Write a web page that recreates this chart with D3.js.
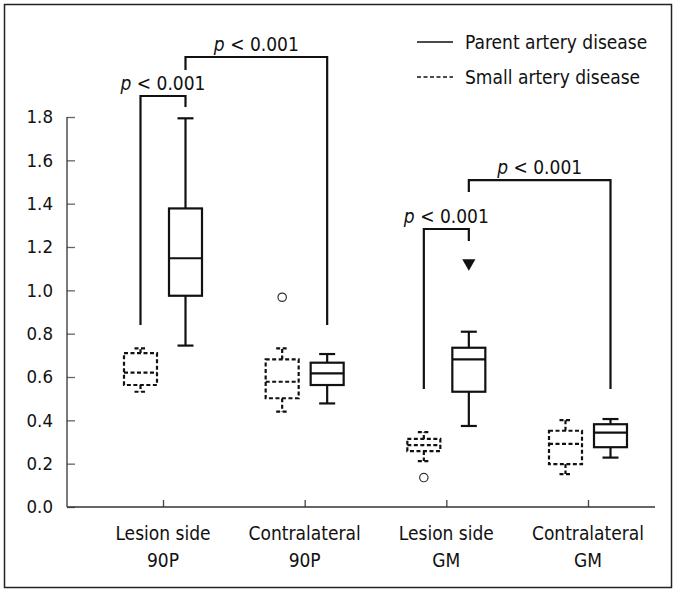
<!DOCTYPE html>
<html>
<head>
<meta charset="utf-8">
<script src="https://cdn.jsdelivr.net/npm/d3@7"></script>
<style>
  body { margin: 0; background: #fff; }
  svg text { font-family: "DejaVu Sans Condensed", "DejaVu Sans", sans-serif; fill: #111; }
</style>
</head>
<body>
<svg id="chart" width="677" height="593"></svg>
<script>
// categories (two lines each)
var categories = [["Lesion side", "90P"], ["Contralateral", "90P"], ["Lesion side", "GM"], ["Contralateral", "GM"]];
var yTicks = [0.0, 0.2, 0.4, 0.6, 0.8, 1.0, 1.2, 1.4, 1.6, 1.8];

// [min, q1, median, q3, max]
var sadBoxes = [
  [0.532, 0.563, 0.62, 0.71, 0.732],
  [0.44, 0.502, 0.578, 0.681, 0.732],
  [0.212, 0.258, 0.286, 0.314, 0.346],
  [0.152, 0.198, 0.291, 0.352, 0.401]
];
var padBoxes = [
  [0.745, 0.975, 1.148, 1.378, 1.794],
  [0.478, 0.563, 0.617, 0.666, 0.706],
  [0.374, 0.532, 0.681, 0.735, 0.809],
  [0.228, 0.276, 0.343, 0.382, 0.406]
];
// [category index, value]
var sadOutliers = [[1, 0.968], [2, 0.136]];
var padExtremes = [[2, 1.126]];

// significance brackets: [left cat, left group, right cat, right group, left leg end, right leg end, top]
var brackets = [
  [0, "sad", 0, "pad", 0.84, 1.846, 1.897],
  [0, "pad", 1, "pad", 2.017, 0.84, 2.077],
  [2, "sad", 2, "pad", 0.545, 1.228, 1.283],
  [2, "pad", 3, "pad", 1.454, 0.545, 1.509]
];

var svg = d3.select("#chart");

// frame
svg.append("rect")
  .attr("x", 4.5).attr("y", 4.5)
  .attr("width", 667).attr("height", 583)
  .attr("fill", "none").attr("stroke", "#222").attr("stroke-width", 1.5);

var y = d3.scaleLinear().domain([0, 1.8]).range([507, 117]);
var x = d3.scalePoint().domain(d3.range(categories.length)).range([163, 588]);
var offset = { sad: -22.5, pad: 22.5 };
var boxW = 33;

// y axis
var yAxis = svg.append("g")
  .attr("transform", "translate(67,0)")
  .call(d3.axisRight(y).tickValues(yTicks).tickSize(8).tickFormat(""));
yAxis.select(".domain").remove();
yAxis.selectAll(".tick line").attr("stroke", "#666").attr("stroke-width", 1.3);
svg.append("line")
  .attr("x1", 67).attr("x2", 67)
  .attr("y1", y(1.8)).attr("y2", y(0))
  .attr("stroke", "#333").attr("stroke-width", 1.3);
svg.selectAll(".ylab")
  .data(yTicks)
  .enter()
  .append("text")
  .attr("class", "ylab")
  .attr("x", 53)
  .attr("y", function (d) { return y(d); })
  .attr("dy", "0.35em")
  .attr("text-anchor", "end")
  .style("font-size", "18.5px")
  .text(function (d) { return d.toFixed(1); });

// x axis
var xAxis = svg.append("g")
  .attr("transform", "translate(0," + y(0) + ")")
  .call(d3.axisTop(x).tickSize(7).tickFormat(""));
xAxis.select(".domain").remove();
xAxis.selectAll(".tick line").attr("stroke", "#444").attr("stroke-width", 1.3);
svg.append("line")
  .attr("x1", 67).attr("x2", 655)
  .attr("y1", y(0)).attr("y2", y(0))
  .attr("stroke", "#333").attr("stroke-width", 1.3);

var xl = svg.selectAll(".xlab")
  .data(categories)
  .enter()
  .append("text")
  .attr("class", "xlab")
  .attr("text-anchor", "middle")
  .style("font-size", "19px");
xl.append("tspan")
  .attr("x", function (d, i) { return x(i); })
  .attr("y", 540)
  .text(function (d) { return d[0]; });
xl.append("tspan")
  .attr("x", function (d, i) { return x(i); })
  .attr("y", 567)
  .text(function (d) { return d[1]; });

// boxes
function drawBoxes(data, group, dash, capW) {
  var g = svg.append("g")
    .attr("fill", "none")
    .attr("stroke", "#111")
    .attr("stroke-width", 2.2)
    .attr("stroke-dasharray", dash);
  data.forEach(function (b, i) {
    var cx = x(i) + offset[group];
    // whiskers
    g.append("line").attr("x1", cx).attr("x2", cx).attr("y1", y(b[3])).attr("y2", y(b[4]));
    g.append("line").attr("x1", cx).attr("x2", cx).attr("y1", y(b[1])).attr("y2", y(b[0]));
    g.append("line").attr("x1", cx - capW / 2).attr("x2", cx + capW / 2).attr("y1", y(b[4])).attr("y2", y(b[4]));
    g.append("line").attr("x1", cx - capW / 2).attr("x2", cx + capW / 2).attr("y1", y(b[0])).attr("y2", y(b[0]));
    // box
    g.append("rect")
      .attr("x", cx - boxW / 2)
      .attr("y", y(b[3]))
      .attr("width", boxW)
      .attr("height", y(b[1]) - y(b[3]))
      .attr("fill", "#fff");
    g.append("line").attr("x1", cx - boxW / 2).attr("x2", cx + boxW / 2).attr("y1", y(b[2])).attr("y2", y(b[2]));
  });
}
drawBoxes(sadBoxes, "sad", "4,2.5", 12);
drawBoxes(padBoxes, "pad", null, 16);

svg.selectAll(".outlier")
  .data(sadOutliers)
  .enter()
  .append("circle")
  .attr("class", "outlier")
  .attr("cx", function (d) { return x(d[0]) + offset.sad; })
  .attr("cy", function (d) { return y(d[1]); })
  .attr("r", 4.2)
  .attr("fill", "#fff")
  .attr("stroke", "#333")
  .attr("stroke-width", 1.2);

svg.selectAll(".extreme")
  .data(padExtremes)
  .enter()
  .append("path")
  .attr("class", "extreme")
  .attr("d", d3.symbol().type(d3.symbolTriangle).size(75))
  .attr("transform", function (d) {
    return "translate(" + (x(d[0]) + offset.pad) + "," + y(d[1]) + ") rotate(180)";
  })
  .attr("fill", "#111");

// brackets
brackets.forEach(function (b) {
  var x1 = x(b[0]) + offset[b[1]];
  var x2 = x(b[2]) + offset[b[3]];
  var top = y(b[6]);
  svg.append("path")
    .attr("d", "M" + x1 + "," + y(b[4]) + "V" + top + "H" + x2 + "V" + y(b[5]))
    .attr("fill", "none")
    .attr("stroke", "#111")
    .attr("stroke-width", 2.2);
  var t = svg.append("text")
    .attr("x", (x1 + x2) / 2)
    .attr("y", top - 6)
    .attr("text-anchor", "middle")
    .style("font-size", "19px");
  t.append("tspan").style("font-style", "italic").text("p");
  t.append("tspan").text(" < 0.001");
});

// legend
var legend = [["Parent artery disease", null], ["Small artery disease", "4,2.5"]];
legend.forEach(function (l, i) {
  var ly = 42 + i * 35;
  svg.append("line")
    .attr("x1", 417).attr("x2", 453)
    .attr("y1", ly).attr("y2", ly)
    .attr("stroke", "#111")
    .attr("stroke-width", 1.6)
    .attr("stroke-dasharray", l[1]);
  svg.append("text")
    .attr("x", 465)
    .attr("y", ly + 5)
    .attr("dy", "0.1em")
    .style("font-size", "19px")
    .text(l[0]);
});
</script>
</body>
</html>
